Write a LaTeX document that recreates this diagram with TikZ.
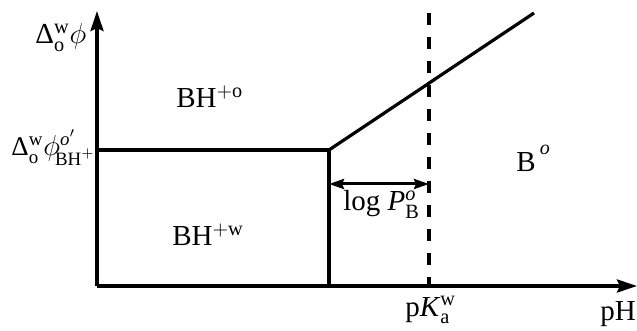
\documentclass[tikz,border=0pt]{standalone}
\usepackage{fontspec}
\setmainfont{Liberation Serif}
\usetikzlibrary{arrows.meta}
\tikzset{
  lbl/.style={anchor=base west, inner sep=0pt, font=\fontsize{14.5}{17}\selectfont},
  axis/.style={line width=1.7pt, -{Stealth[length=10pt,width=6.5pt,inset=1.5pt]}},
  bound/.style={line width=1.6pt},
  meas/.style={line width=1.5pt, {Stealth[length=7.5pt,width=5pt,inset=1pt]}-{Stealth[length=7.5pt,width=5pt,inset=1pt]}},
  pkline/.style={line width=1.6pt, dash pattern=on 6pt off 6pt}
}
\begin{document}
\begin{tikzpicture}[x=0.5pt,y=-0.5pt]
\useasboundingbox (0,0) rectangle (637,331);
% coordinates
\coordinate (O) at (97,286);
\coordinate (Ytop) at (97,11);
\coordinate (Xend) at (637,286);
\coordinate (A) at (97,150);
\coordinate (C) at (329,150);
\coordinate (D) at (329,286);
\coordinate (E) at (534,13);
\coordinate (F) at (429,13);
\coordinate (G) at (429,286);
\coordinate (H1) at (329,184);
\coordinate (H2) at (429,184);
% axes
\draw[axis] (O) -- (Ytop);
\draw[axis] (O) -- (Xend);
% boundaries
\draw[bound] (A) -- (C) -- (D);
\draw[bound] (C) -- (E);
\draw[pkline] (F) -- (G);
\draw[meas] (H1) -- (H2);
% labels
\node[lbl] (ylab) at (35,44) {Δ$^{\mathrm{w}}_{\mathrm{o}}\phi$};
\node[lbl, font=\fontsize{13.5}{16}\selectfont] (ylev) at (11,156) {Δ$^{\mathrm{w}}_{\mathrm{o}}\phi^{\mathit{o}'}_{\hspace{-2.5pt}\mathrm{BH}^+}$};
\node[lbl] (bho) at (176,108) {BH$^{+\mathrm{o}}$};
\node[lbl] (bhw) at (172,246) {BH$^{+\mathrm{w}}$};
\node[lbl] (bo) at (516,172) {B\raisebox{0.6em}{\hspace{2pt}\fontsize{10}{10}\selectfont\itshape o}};
\node[lbl] (logp) at (343,211) {log \textit{P}$^{\mathit{o}}_{\mathrm{B}}$};
\node[lbl] (pka) at (405,316) {p\textit{K}$^{\mathrm{w}}_{\mathrm{a}}$};
\node[lbl] (ph) at (600,321) {pH};
\end{tikzpicture}
\end{document}
